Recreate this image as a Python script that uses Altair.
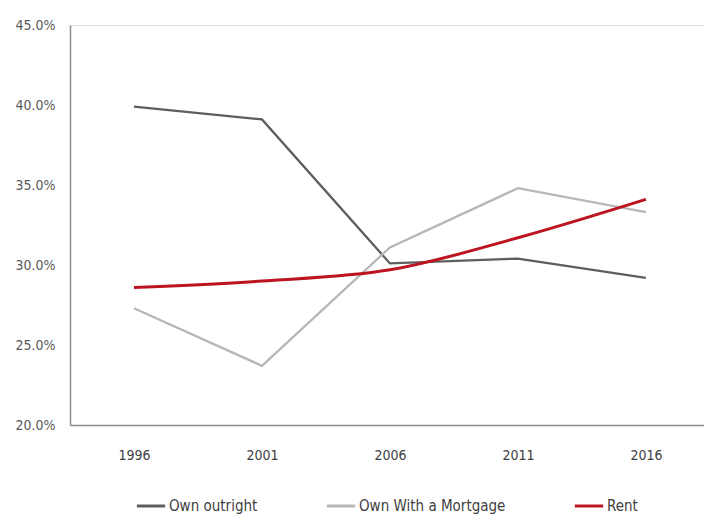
import altair as alt
import pandas as pd

years = [1996, 2001, 2006, 2011, 2016]
own_outright = [0.399, 0.391, 0.301, 0.304, 0.292]
own_mortgage = [0.273, 0.237, 0.311, 0.348, 0.333]
rent = [0.286, 0.290, 0.297, 0.317, 0.341]

series_names = ["Own outright", "Own With a Mortgage", "Rent"]
series_colors = ["#5e5e5e", "#b7b7b7", "#bc1420"]
y_ticks = [0.20, 0.25, 0.30, 0.35, 0.40, 0.45]

rows = []
for name, vals in zip(series_names, [own_outright, own_mortgage, rent]):
    for yr, v in zip(years, vals):
        rows.append({"year": yr, "share": v, "series": name})
df = pd.DataFrame(rows)

FONT = "Liberation Sans Narrow, DejaVu Sans Condensed, Roboto Condensed, Open Sans"

x_enc = alt.X(
    "year:Q",
    scale=alt.Scale(domain=[1993.5, 2018.27], nice=False, zero=False),
    axis=alt.Axis(
        values=years, format="d", title=None, grid=False, ticks=False,
        domainColor="#8c8c8c", domainWidth=1.5, labelPadding=23,
        labelColor="#404040", labelFontSize=14, labelFont=FONT,
    ),
)
y_enc = alt.Y(
    "share:Q",
    scale=alt.Scale(domain=[0.20, 0.45], nice=False, zero=False),
    axis=alt.Axis(
        values=y_ticks, format=".1%", title=None, grid=False, ticks=False,
        domainColor="#8c8c8c", domainWidth=1.5, labelPadding=15,
        labelColor="#595959", labelFontSize=14, labelFont=FONT,
    ),
)
color_enc = alt.Color(
    "series:N",
    scale=alt.Scale(domain=series_names, range=series_colors),
    legend=alt.Legend(
        title=None, orient="none", direction="horizontal",
        legendX=65, legendY=465, symbolType="stroke", symbolSize=800,
        symbolStrokeWidth=3, labelFontSize=15, labelFont=FONT,
        labelColor="#404040", columnPadding=62, labelOffset=2, padding=0,
    ),
)

base = alt.Chart(df).encode(x=x_enc, y=y_enc, color=color_enc)

gray_lines = base.transform_filter(alt.datum.series != "Rent").mark_line(
    strokeWidth=2.3, interpolate="linear"
)
red_line = base.transform_filter(alt.datum.series == "Rent").mark_line(
    strokeWidth=3, interpolate="monotone"
)

chart = (
    alt.layer(gray_lines, red_line)
    .properties(
        width=634, height=400,
        autosize=alt.AutoSizeParams(type="none"),
        padding={"left": 70, "top": 25, "right": 0, "bottom": 96},
    )
    .configure_view(stroke=None)
    .configure(background="white")
)

chart.save("out.html", embed_options={"renderer": "svg", "actions": False})
